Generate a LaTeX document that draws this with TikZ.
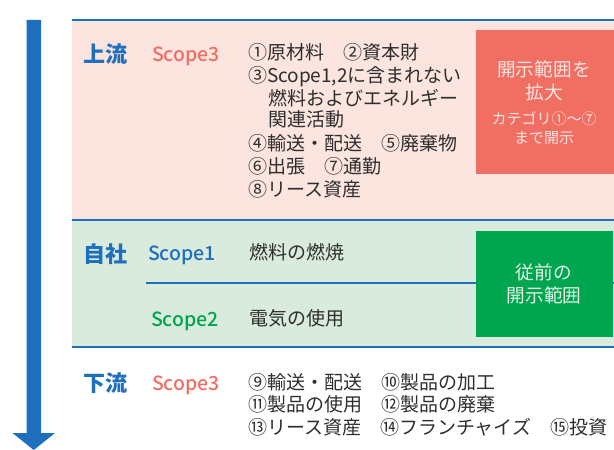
\documentclass[tikz,border=0pt]{standalone}
\usepackage{fontspec}
\setmainfont{Noto Sans CJK JP}
\IfFontExistsTF{Noto Sans CJK JP Medium}
  {\newfontfamily\medfont{Noto Sans CJK JP Medium}}
  {\newfontfamily\medfont{Noto Sans CJK JP}[FakeBold=0.4]}
\definecolor{myblue}{HTML}{1F6FBF}
\definecolor{pinkbg}{HTML}{FCE4DF}
\definecolor{salmon}{HTML}{F16E63}
\definecolor{greenbg}{HTML}{D9EBDD}
\definecolor{mygreen}{HTML}{00A54F}
\definecolor{txt}{HTML}{2E2E2E}
\definecolor{pinktxt}{HTML}{FDE6E2}
\definecolor{greentxt}{HTML}{E4F2E7}
\tikzset{
  every node/.style={inner sep=0pt, outer sep=0pt},
  item/.style={anchor=base west, font=\fontsize{19bp}{22bp}\selectfont, text=txt},
  region/.style={anchor=base west, font=\fontsize{22bp}{26bp}\selectfont\bfseries, text=myblue},
  scopelbl/.style={anchor=base west, font=\fontsize{19.5bp}{24bp}\medfont},
  boxtxt/.style={anchor=base, font=\fontsize{18.7bp}{22bp}\selectfont},
  smalltxt/.style={anchor=base, font=\fontsize{15bp}{18bp}\selectfont},
  sepline/.style={draw=myblue, line width=1.1bp}
}
\begin{document}
\begin{tikzpicture}[x=1bp,y=-1bp]
\useasboundingbox (0,0) rectangle (614,450);
% backgrounds
\fill[pinkbg] (72,20) rectangle (614,220);
\fill[greenbg] (72,220) rectangle (614,347);
% separator lines
\coordinate (l1a) at (72,20);  \coordinate (l1b) at (614,20);
\coordinate (l2a) at (72,220); \coordinate (l2b) at (614,220);
\coordinate (l3a) at (146,283); \coordinate (l3b) at (614,283);
\coordinate (l4a) at (72,347); \coordinate (l4b) at (614,347);
\draw[sepline] (l1a) -- (l1b);
\draw[sepline] (l2a) -- (l2b);
\draw[sepline] (l3a) -- (l3b);
\draw[sepline] (l4a) -- (l4b);
% arrow
\fill[myblue] (26.5,20) -- (41,20) -- (41,433) -- (55,433) -- (33.75,450) -- (12.5,433) -- (26.5,433) -- cycle;
% boxes
\node[fill=salmon, minimum width=138bp, minimum height=144bp, anchor=north west] (expand) at (476,30) {};
\node[fill=mygreen, minimum width=137bp, minimum height=106bp, anchor=north west] (prior) at (476,231) {};
% box texts
\node[boxtxt, text=pinktxt] (e1) at (544,77) {開示範囲を};
\node[boxtxt, text=pinktxt] (e2) at (544,100) {拡大};
\node[smalltxt, text=pinktxt] (e3) at (544,124.5) {カテゴリ①〜⑦};
\node[smalltxt, text=pinktxt] (e4) at (544,143.5) {まで開示};
\node[boxtxt, text=greentxt] (p1) at (544,280) {従前の};
\node[boxtxt, text=greentxt] (p2) at (544,303) {開示範囲};
% upstream
\node[region] (up) at (83,62.5) {上流};
\node[scopelbl, text=salmon] (up3) at (152,61.5) {Scope3};
\node[item] (u1) at (248,60) {①原材料　②資本財};
\node[item] (u2) at (248,83) {③Scope1,2に含まれない};
\node[item] (u3) at (268,106) {燃料およびエネルギー};
\node[item] (u4) at (268,127) {関連活動};
\node[item] (u5) at (248,150.5) {④輸送・配送　⑤廃棄物};
\node[item] (u6) at (248,174) {⑥出張　⑦通勤};
\node[item] (u7) at (248,197) {⑧リース資産};
% own company
\node[region] (own) at (83,263) {自社};
\node[scopelbl, text=myblue] (s1) at (148,261) {Scope1};
\node[item] (s1t) at (249,260) {燃料の燃焼};
\node[scopelbl, text=mygreen] (s2) at (151,326) {Scope2};
\node[item] (s2t) at (249,325) {電気の使用};
% downstream
\node[region] (down) at (83,391) {下流};
\node[scopelbl, text=salmon] (down3) at (152,390) {Scope3};
\node[item] (d1) at (248,389) {⑨輸送・配送　⑩製品の加工};
\node[item] (d2) at (248,411.5) {⑪製品の使用　⑫製品の廃棄};
\node[item] (d3) at (248,434) {⑬リース資産　⑭フランチャイズ　⑮投資};
\end{tikzpicture}
\end{document}
